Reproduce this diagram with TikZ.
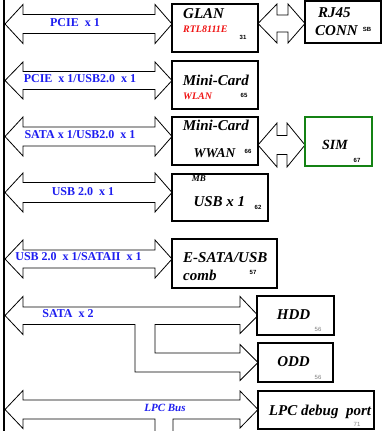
\documentclass[tikz,border=0pt]{standalone}
\usepackage{fontspec}
\setmainfont{Liberation Serif}
\newfontfamily\numfont{Liberation Sans}
\definecolor{busblue}{RGB}{30,30,240}
\definecolor{simgreen}{RGB}{20,130,20}
\definecolor{rtlred}{RGB}{240,20,20}
\newcommand{\dblarr}[7]{% x1 x2 c h H L1 L2
  \draw[arr] (#1,#3) -- (#1+#6,#3-#5) -- (#1+#6,#3-#4) -- (#2-#7,#3-#4) -- (#2-#7,#3-#5) -- (#2,#3) -- (#2-#7,#3+#5) -- (#2-#7,#3+#4) -- (#1+#6,#3+#4) -- (#1+#6,#3+#5) -- cycle;}
\tikzset{
  arr/.style={draw=black, fill=white, line width=0.8pt, line join=miter},
  box/.style={draw=black, fill=white, line width=2.4pt, inner sep=0pt},
  gbox/.style={draw=simgreen, fill=white, line width=2pt, inner sep=0pt},
  lbl/.style={font=\fontsize{12}{12}\selectfont\bfseries, text=busblue, inner sep=0pt, anchor=base},
  big/.style={font=\fontsize{15}{15}\selectfont\bfseries\itshape, inner sep=0pt, anchor=base west},
  mid/.style={font=\fontsize{13.5}{13.5}\selectfont\bfseries\itshape, inner sep=0pt, anchor=base west},
  redt/.style={font=\fontsize{10}{10}\selectfont\bfseries\itshape, text=rtlred, inner sep=0pt, anchor=base west},
  num/.style={font=\numfont\fontsize{6}{6}\selectfont\bfseries, inner sep=0pt},
  gnum/.style={font=\numfont\fontsize{6}{6}\selectfont, text=gray, inner sep=0pt},
}
\begin{document}
\begin{tikzpicture}[x=1pt,y=-1pt]
\useasboundingbox (0,0) rectangle (390,431);
\clip (0,0) rectangle (390,431);
\fill[white] (0,0) rectangle (390,431);
% block arrows
\dblarr{5}{172}{24}{9.5}{19.5}{18}{17}
\dblarr{5}{172}{80.5}{9}{18.5}{18}{17}
\dblarr{5}{172}{136.5}{9.5}{19.5}{18}{17}
\dblarr{5}{172}{192.5}{10}{19.5}{18}{17}
\dblarr{5}{172}{259}{9}{19}{18}{17}
\dblarr{258}{305}{23.5}{8.5}{19.5}{19}{17}
\dblarr{258}{305}{145}{9.5}{22}{19}{18}
% SATA x 2 branched arrow
\draw[arr] (5,315.5) -- (23,296.5) -- (23,307) -- (240,307) -- (240,296.5) -- (258,315.5) -- (240,333.5) -- (240,324.5) -- (155,324.5) -- (155,353) -- (240,353) -- (240,344.5) -- (258,362.5) -- (240,380.5) -- (240,372) -- (135,372) -- (135,324.5) -- (23,324.5) -- (23,334.5) -- cycle;
% LPC bus arrow
\draw[arr] (155,432) -- (155,419) -- (23,419) -- (23,428.5) -- (5,409.5) -- (23,390.5) -- (23,400) -- (240,400) -- (240,391) -- (258,409.5) -- (240,428) -- (240,419) -- (173,419) -- (173,432);
% left bus line
\coordinate (bt) at (3.7,0);
\coordinate (bb) at (3.7,431);
\draw[line width=2.2pt] (bt) -- (bb);
% boxes
\node[box, minimum width=86pt, minimum height=48pt] (glan) at (215,28) {};
\node[box, minimum width=76pt, minimum height=42pt] (rj45) at (343,21.8) {};
\node[box, minimum width=86pt, minimum height=48pt] (wlan) at (215,85) {};
\node[box, minimum width=86pt, minimum height=48pt] (wwan) at (215,141) {};
\node[gbox, minimum width=67pt, minimum height=49pt] (sim) at (338.5,141.5) {};
\node[box, minimum width=96pt, minimum height=47pt] (mb) at (220,197.5) {};
\node[box, minimum width=105pt, minimum height=49pt] (esata) at (224.5,263.5) {};
\node[box, minimum width=77pt, minimum height=39pt] (hdd) at (295.5,315.5) {};
\node[box, minimum width=75pt, minimum height=39pt] (odd) at (295.5,362.5) {};
\node[box, minimum width=116pt, minimum height=38pt] (lpc) at (316,410) {};
% bus labels
\node[lbl] (l1) at (75,26) {PCIE\ \ x 1};
\node[lbl] (l2) at (80,82) {PCIE\ \ x 1/USB2.0\ \ x 1};
\node[lbl] (l3) at (80,138.3) {SATA x 1/USB2.0\ \ x 1};
\node[lbl] (l4) at (83,195) {USB 2.0\ \ x 1};
\node[lbl] (l5) at (78.5,260) {USB 2.0\ \ x 1/SATAII\ \ x 1};
\node[lbl] (l6) at (68,317.3) {SATA\ \ x 2};
\node[lbl, font=\fontsize{11}{11}\selectfont\bfseries\itshape] (l7) at (165,411.7) {LPC Bus};
% box texts
\node[big] (t1) at (183,18.3) {GLAN};
\node[redt] (t2) at (183,32.7) {RTL8111E};
\node[num] (n1) at (243,37) {31};
\node[big] (t3) at (318,17.3) {RJ45};
\node[big] (t4) at (315,35) {CONN};
\node[num] (n2) at (367,29.3) {SB};
\node[big] (t5) at (182.7,85) {Mini-Card};
\node[redt] (t6) at (183,99) {WLAN};
\node[num] (n3) at (244,95) {65};
\node[big] (t7) at (182.7,130.7) {Mini-Card};
\node[mid] (t8) at (193.3,157.3) {WWAN};
\node[num] (n4) at (248,151) {66};
\node[big, font=\fontsize{14}{14}\selectfont\bfseries\itshape, anchor=base] (t9) at (335,149.3) {SIM};
\node[num] (n5) at (357,160.7) {67};
\node[redt, text=black, font=\fontsize{9}{9}\selectfont\bfseries\itshape] (t10) at (191.7,181.7) {MB};
\node[big] (t11) at (193.3,206.7) {USB x 1};
\node[num] (n6) at (258,207) {62};
\node[big] (t12) at (183,262.7) {E-SATA/USB};
\node[big] (t13) at (183,280) {comb};
\node[num] (n7) at (253,272.7) {57};
\node[big, anchor=base] (t14) at (293.5,319.3) {HDD};
\node[gnum] (n8) at (318,329) {56};
\node[big, anchor=base] (t15) at (293.5,366.5) {ODD};
\node[gnum] (n9) at (318,377) {56};
\node[big, anchor=base] (t16) at (320,415) {LPC debug\ \ port};
\node[gnum] (n10) at (357,424) {71};
\end{tikzpicture}
\end{document}
